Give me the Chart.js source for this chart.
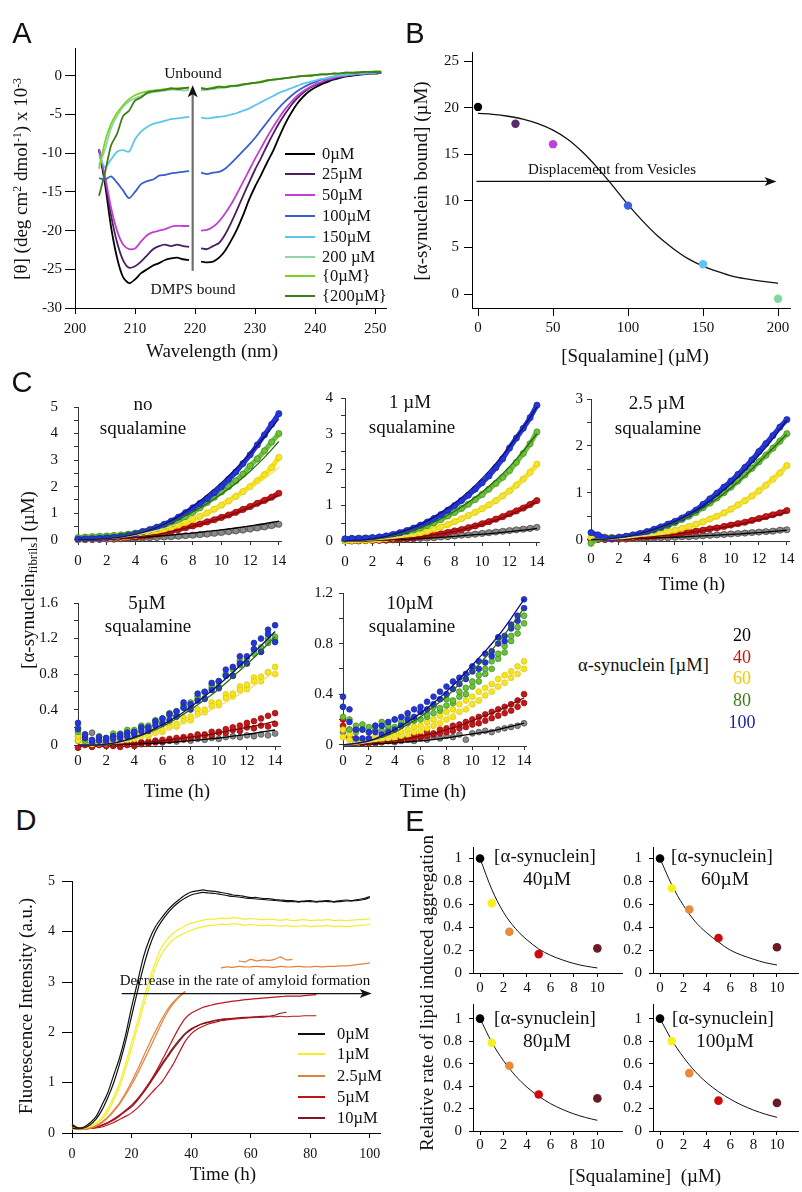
<!DOCTYPE html>
<html><head><meta charset="utf-8">
<script src="https://cdn.jsdelivr.net/npm/chart.js@4.4.1/dist/chart.umd.min.js"></script>
<style>
html,body{margin:0;padding:0;background:#fff;}
#root{position:relative;width:802px;height:1192px;overflow:hidden;background:#fff;font-family:'Liberation Serif','Times New Roman',serif;color:#111;}
.t{position:absolute;white-space:nowrap;line-height:1;}
.t sup{font-size:0.62em;vertical-align:0.5em;line-height:0;}
.t sub{font-size:0.68em;vertical-align:-0.3em;line-height:0;}
.lg{position:absolute;height:2px;}
canvas{position:absolute;}
</style></head><body><div id="root"></div>
<script>
// ---------------- DATA ----------------
// Panel A: CD spectra
const wlA = [204,205,206,207,208,209,210,211,212,213,214,215,216,217,218,219,220,221,222,223,224,225,226,227,228,229,230,231,232,233,234,235,236,237,238,239,240,241,242,243,244,245,246,247,248,249,250,251];
const cd0 = [-9.5,-14,-19.5,-23.5,-26,-26.8,-26.3,-25.5,-25.0,-24.5,-24.2,-23.8,-23.6,-23.5,-23.7,-23.8,null,-24.0,-24.1,-24.0,-23.5,-22.6,-21.3,-19.8,-18.0,-16.0,-14.3,-12.8,-11.2,-9.7,-7.9,-6.2,-4.8,-3.6,-2.7,-2.0,-1.5,-1.1,-0.8,-0.5,-0.3,-0.1,0.0,0.1,0.2,0.3,0.3,0.4];
const cd25 = [-9.5,-13.5,-18,-21.5,-23.8,-24.8,-24.6,-24.0,-23.2,-22.4,-22.0,-21.8,-22.0,-21.8,-22.0,-22.1,null,-22.3,-22.4,-22.0,-21.6,-20.5,-19.0,-17.3,-15.5,-13.8,-12.1,-10.6,-9.0,-7.5,-6.1,-4.9,-3.8,-2.9,-2.2,-1.6,-1.2,-0.9,-0.6,-0.4,-0.2,0.0,0.1,0.2,0.3,0.3,0.4,0.4];
const cd50 = [-9.5,-13,-17,-20,-21.8,-22.4,-22.3,-21.4,-20.6,-20.2,-20.0,-19.8,-19.5,-19.4,-19.4,-19.4,null,-20.0,-19.9,-19.5,-18.8,-17.8,-16.6,-15.2,-13.7,-12.2,-10.7,-9.3,-7.9,-6.6,-5.4,-4.3,-3.4,-2.6,-2.0,-1.5,-1.1,-0.8,-0.5,-0.3,-0.1,0.0,0.1,0.2,0.3,0.3,0.4,0.4];
const cd100 = [-13.2,-13.4,-13.0,-13.8,-14.8,-15.8,-15.0,-14.0,-13.6,-13.4,-12.9,-12.8,-12.6,-12.5,-12.4,-12.3,null,-12.5,-12.7,-12.5,-12.4,-12.0,-11.3,-10.5,-9.7,-8.9,-8.0,-7.0,-6.0,-5.0,-4.1,-3.3,-2.6,-2.0,-1.5,-1.1,-0.8,-0.5,-0.3,-0.1,0.0,0.1,0.2,0.3,0.3,0.4,0.4,0.4];
const cd150 = [-10.2,-11.8,-10.8,-9.8,-9.6,-9.8,-8.2,-7.2,-6.6,-6.2,-6.0,-5.8,-5.6,-5.5,-5.4,-5.3,null,-5.4,-5.5,-5.4,-5.3,-5.2,-5.0,-4.8,-4.5,-4.2,-3.8,-3.4,-3.0,-2.6,-2.2,-1.9,-1.6,-1.3,-1.0,-0.8,-0.6,-0.4,-0.3,-0.1,0.0,0.1,0.2,0.3,0.3,0.4,0.4,0.5];
const cd200 = [-11.5,-9.5,-6.8,-5.2,-4.0,-3.3,-2.9,-2.6,-2.3,-2.1,-2.0,-1.9,-1.8,-1.8,-1.9,-1.8,null,-1.9,-1.8,-1.7,-1.6,-1.5,-1.4,-1.3,-1.2,-1.0,-0.9,-0.8,-0.6,-0.5,-0.4,-0.3,-0.2,-0.1,0.0,0.0,0.1,0.2,0.2,0.3,0.3,0.4,0.4,0.5,0.5,0.5,0.5,0.5];
const cdFree0 = [-12.0,-8.5,-6.2,-4.8,-3.8,-3.0,-2.5,-2.2,-2.0,-1.9,-1.8,-1.7,-1.7,-1.6,-1.6,-1.6,null,-1.6,-1.7,-1.5,-1.4,-1.4,-1.3,-1.2,-1.1,-1.0,-0.9,-0.7,-0.6,-0.5,-0.4,-0.3,-0.2,-0.1,0.0,0.1,0.1,0.2,0.2,0.3,0.3,0.4,0.4,0.5,0.5,0.5,0.6,0.6];
const cdFree200 = [-15.5,-12.5,-9.0,-7.5,-5.2,-4.5,-3.2,-2.8,-2.2,-2.0,-1.9,-1.8,-1.6,-1.7,-1.6,-1.5,null,-1.6,-1.7,-1.6,-1.4,-1.5,-1.3,-1.3,-1.1,-1.0,-0.9,-0.8,-0.6,-0.5,-0.4,-0.3,-0.2,-0.1,0.0,0.0,0.1,0.2,0.2,0.3,0.3,0.4,0.4,0.4,0.5,0.5,0.5,0.5];
const labelsA = ['0\u00b5M','25\u00b5M','50\u00b5M','100\u00b5M','150\u00b5M','200 \u00b5M','{0\u00b5M}','{200\u00b5M}'];
const colorsA = ['#000000','#4b1f60','#c23fd6','#3a5fcd','#5cc6ef','#8fd6a8','#7ed321','#3f7d1c'];
const ticksAx = [200,210,220,230,240,250];
const ticksAy = [-30,-25,-20,-15,-10,-5,0];

// Panel B: bound alpha-synuclein vs squalamine
const sqB = [0,25,50,100,150,200];
const boundB = [20.1,18.3,16.1,9.5,3.2,-0.5];
const colorsB = ['#000000','#5a2a6e','#c040e0','#3a62e0','#5cc6f0','#7fd8a0'];
const sqFitB = [0,10,20,30,40,50,60,70,80,90,100,110,120,130,140,150,160,170,180,190,200];
const fitB = [19.4,19.3,19.1,18.8,18.3,17.6,16.6,15.2,13.5,11.6,9.6,7.8,6.2,4.9,3.8,3.0,2.4,1.9,1.6,1.35,1.15];
const ticksBx = [0,50,100,150,200];
const ticksBy = [0,5,10,15,20,25];

// Panel C: kinetics (time in h)
const tC = [0,0.5,1,1.5,2,2.5,3,3.5,4,4.5,5,5.5,6,6.5,7,7.5,8,8.5,9,9.5,10,10.5,11,11.5,12,12.5,13,13.5,14];
const tF = [0,1,2,3,4,5,6,7,8,9,10,11,12,13,14];
// no squalamine
const c1Blue = [0.02,0.03,0.04,0.05,0.07,0.09,0.12,0.16,0.22,0.3,0.38,0.47,0.58,0.7,0.85,1.02,1.2,1.37,1.55,1.77,2.0,2.27,2.55,2.87,3.2,3.57,3.95,4.35,4.75];
const c1Green = [0.08,0.1,0.12,0.13,0.14,0.16,0.18,0.21,0.25,0.3,0.36,0.43,0.51,0.6,0.72,0.87,1.03,1.2,1.4,1.6,1.8,2.0,2.22,2.47,2.78,3.05,3.35,3.68,4.0];
const c1Yellow = [0.0,0.02,0.03,0.04,0.05,0.07,0.09,0.12,0.16,0.2,0.25,0.31,0.38,0.46,0.55,0.65,0.76,0.88,1.01,1.15,1.3,1.46,1.63,1.81,2.0,2.22,2.45,2.72,3.1];
const c1Red = [0,0.01,0.01,0.02,0.03,0.04,0.06,0.08,0.1,0.13,0.16,0.2,0.24,0.32,0.38,0.45,0.52,0.59,0.67,0.75,0.84,0.93,1.03,1.14,1.25,1.37,1.48,1.6,1.75];
const c1Gray = [0,0,0.01,0.01,0.02,0.02,0.03,0.04,0.05,0.06,0.07,0.08,0.1,0.11,0.13,0.15,0.17,0.19,0.21,0.24,0.27,0.3,0.33,0.36,0.4,0.44,0.48,0.53,0.58];
const c1FitBlue = [0,0.01,0.04,0.1,0.2,0.36,0.58,0.88,1.25,1.68,2.15,2.67,3.25,3.88,4.55];
const c1FitGreen = [0,0.02,0.06,0.13,0.24,0.38,0.56,0.78,1.05,1.36,1.72,2.12,2.58,3.1,3.7];
const c1FitYellow = [0,0.01,0.04,0.09,0.17,0.28,0.42,0.6,0.8,1.03,1.3,1.6,1.93,2.3,2.72];
const c1FitRed = [0,0.005,0.02,0.05,0.09,0.16,0.25,0.37,0.5,0.65,0.82,1.01,1.22,1.44,1.68];
const c1FitBlack = [0,0.01,0.03,0.05,0.08,0.11,0.15,0.2,0.25,0.31,0.37,0.44,0.52,0.6,0.7];
// 1 uM squalamine
const c2Blue = [0.06,0.07,0.07,0.08,0.09,0.11,0.14,0.18,0.23,0.29,0.36,0.44,0.53,0.63,0.74,0.86,0.99,1.13,1.28,1.45,1.63,1.82,2.05,2.3,2.6,2.88,3.15,3.45,3.8];
const c2Green = [0.05,0.07,0.08,0.08,0.09,0.11,0.13,0.16,0.2,0.25,0.3,0.36,0.43,0.51,0.6,0.7,0.8,0.91,1.03,1.16,1.3,1.45,1.61,1.78,1.97,2.2,2.45,2.72,3.05];
const c2Yellow = [0,0.01,0.02,0.02,0.03,0.04,0.06,0.08,0.11,0.14,0.18,0.22,0.27,0.33,0.39,0.46,0.54,0.62,0.71,0.8,0.9,1.01,1.13,1.26,1.4,1.56,1.73,1.92,2.15];
const c2Red = [0,0,0.01,0.01,0.02,0.02,0.03,0.04,0.06,0.07,0.09,0.11,0.14,0.17,0.2,0.24,0.28,0.32,0.37,0.42,0.48,0.54,0.61,0.68,0.76,0.84,0.92,1.02,1.13];
const c2Gray = [0,0,0,0.01,0.01,0.02,0.02,0.03,0.04,0.05,0.06,0.07,0.08,0.09,0.11,0.12,0.14,0.16,0.17,0.19,0.21,0.23,0.25,0.27,0.29,0.31,0.33,0.35,0.38];
const c2FitBlue = [0,0.02,0.06,0.13,0.24,0.38,0.56,0.79,1.06,1.38,1.75,2.17,2.65,3.18,3.75];
const c2FitGreen = [0,0.01,0.04,0.1,0.19,0.3,0.44,0.62,0.83,1.08,1.37,1.7,2.08,2.52,3.0];
const c2FitYellow = [0,0.01,0.03,0.06,0.11,0.18,0.27,0.39,0.53,0.7,0.89,1.12,1.38,1.7,2.05];
const c2FitRed = [0,0.005,0.015,0.03,0.06,0.09,0.14,0.2,0.27,0.36,0.46,0.58,0.73,0.9,1.1];
const c2FitBlack = [0,0.004,0.01,0.025,0.04,0.06,0.08,0.1,0.13,0.16,0.19,0.22,0.26,0.3,0.35];
// 2.5 uM squalamine
const c3Blue = [0.15,0.1,0.04,0.03,0.05,0.07,0.1,0.13,0.17,0.22,0.27,0.33,0.39,0.46,0.54,0.63,0.75,0.87,0.99,1.12,1.25,1.39,1.54,1.7,1.88,2.05,2.22,2.4,2.56];
const c3Green = [-0.08,0.02,0.03,0.04,0.05,0.07,0.09,0.12,0.16,0.2,0.25,0.3,0.36,0.43,0.5,0.58,0.68,0.78,0.89,1.0,1.12,1.25,1.38,1.52,1.66,1.8,1.95,2.1,2.26];
const c3Yellow = [0.05,0.08,0.06,0.05,0.05,0.06,0.07,0.08,0.1,0.12,0.14,0.17,0.2,0.24,0.28,0.33,0.38,0.44,0.5,0.57,0.65,0.74,0.83,0.93,1.04,1.16,1.29,1.42,1.58];
const c3Red = [0,0.01,0.01,0.02,0.02,0.03,0.04,0.05,0.06,0.07,0.09,0.1,0.12,0.14,0.16,0.18,0.2,0.23,0.25,0.28,0.31,0.34,0.37,0.41,0.45,0.49,0.53,0.57,0.62];
const c3Gray = [0,0,0,0.01,0.01,0.01,0.02,0.02,0.03,0.03,0.04,0.04,0.05,0.06,0.06,0.07,0.08,0.09,0.1,0.11,0.12,0.13,0.14,0.15,0.16,0.17,0.18,0.2,0.21];
const c3FitBlue = [0,0.01,0.04,0.09,0.17,0.27,0.39,0.54,0.72,0.94,1.19,1.48,1.8,2.15,2.55];
const c3FitGreen = [0,0.01,0.04,0.09,0.16,0.25,0.36,0.5,0.67,0.87,1.1,1.36,1.65,1.95,2.25];
const c3FitYellow = [0,0.01,0.02,0.05,0.09,0.14,0.21,0.29,0.39,0.51,0.65,0.82,1.02,1.26,1.53];
const c3FitRed = [0,0.005,0.015,0.03,0.05,0.08,0.11,0.15,0.19,0.24,0.29,0.35,0.42,0.5,0.59];
const c3FitBlack = [0,0.003,0.01,0.02,0.03,0.04,0.05,0.065,0.08,0.095,0.11,0.13,0.15,0.175,0.2];
// 5 uM squalamine (two replicates)
const c4BlueA = [0.25,0.12,0.06,0.05,0.08,0.07,0.12,0.1,0.15,0.16,0.2,0.22,0.3,0.28,0.38,0.42,0.46,0.5,0.6,0.62,0.72,0.78,0.88,0.92,1.0,1.08,1.2,1.25,1.35];
const c4BlueB = [0.18,0.08,0.03,0.09,0.04,0.1,0.08,0.14,0.12,0.2,0.16,0.27,0.24,0.35,0.32,0.48,0.4,0.58,0.52,0.7,0.64,0.85,0.78,1.0,0.92,1.15,1.05,1.3,1.16];
const c4GreenA = [0.15,0.08,0.05,0.06,0.08,0.1,0.13,0.14,0.17,0.2,0.22,0.25,0.3,0.33,0.38,0.42,0.48,0.52,0.6,0.65,0.72,0.78,0.85,0.9,0.98,1.03,1.1,1.15,1.22];
const c4GreenB = [0.2,0.05,0.03,0.1,0.06,0.13,0.1,0.17,0.14,0.22,0.19,0.28,0.26,0.36,0.33,0.45,0.43,0.55,0.53,0.68,0.66,0.8,0.78,0.95,0.92,1.08,1.05,1.2,1.18];
const c4YellowA = [0.1,0.12,0.05,0.02,0.02,0.03,0.05,0.06,0.08,0.1,0.12,0.14,0.17,0.2,0.24,0.27,0.32,0.35,0.4,0.44,0.48,0.53,0.58,0.62,0.68,0.72,0.77,0.82,0.88];
const c4YellowB = [0.05,0.03,0.01,0.04,0.03,0.06,0.04,0.09,0.07,0.13,0.1,0.18,0.15,0.24,0.21,0.31,0.28,0.4,0.37,0.48,0.45,0.57,0.55,0.66,0.63,0.76,0.72,0.82,0.8];
const c4RedA = [-0.03,0.02,0,0.02,-0.01,0.01,-0.02,0,0.02,0.01,0.04,0.03,0.06,0.05,0.08,0.07,0.1,0.12,0.11,0.15,0.14,0.18,0.2,0.22,0.25,0.27,0.3,0.33,0.36];
const c4RedB = [0.05,0,-0.02,0,0.01,-0.01,0.01,0.02,-0.01,0.03,0.02,0.05,0.04,0.07,0.06,0.09,0.08,0.1,0.12,0.11,0.15,0.14,0.17,0.16,0.2,0.19,0.22,0.21,0.24];
const c4Gray = [0.1,0.12,0.14,0.02,0.01,0,0.01,0.02,0.01,0.03,0.02,0.04,0.03,0.05,0.04,0.06,0.05,0.07,0.06,0.08,0.07,0.09,0.1,0.09,0.11,0.1,0.12,0.11,0.13];
const c4FitBlue = [0,0,0.01,0.04,0.09,0.15,0.23,0.32,0.43,0.55,0.68,0.82,0.97,1.12,1.28];
const c4FitGreen = [0,0,0.01,0.04,0.08,0.14,0.21,0.3,0.4,0.51,0.63,0.77,0.91,1.06,1.22];
const c4FitYellow = [0,0,0.01,0.03,0.06,0.1,0.15,0.21,0.28,0.36,0.44,0.53,0.62,0.72,0.83];
const c4FitRed = [0,0,0.005,0.01,0.02,0.035,0.05,0.07,0.09,0.11,0.14,0.17,0.2,0.23,0.27];
const c4FitBlack = [0,0,0.003,0.006,0.01,0.017,0.025,0.036,0.05,0.065,0.08,0.1,0.12,0.145,0.17];
// 10 uM squalamine (two replicates)
const c5BlueA = [0.38,0.28,0.12,0.05,0.1,0.15,0.08,0.18,0.12,0.22,0.2,0.28,0.26,0.34,0.32,0.42,0.4,0.5,0.48,0.56,0.58,0.66,0.65,0.74,0.8,0.86,0.92,1.02,1.15];
const c5BlueB = [0.3,0.18,0.05,0.12,0.05,0.1,0.15,0.1,0.2,0.15,0.25,0.22,0.3,0.28,0.38,0.36,0.46,0.44,0.53,0.52,0.62,0.6,0.72,0.7,0.85,0.82,0.95,0.98,1.08];
const c5GreenA = [0.3,0.2,0.15,0.16,0.14,0.15,0.18,0.15,0.2,0.18,0.22,0.2,0.26,0.24,0.3,0.29,0.36,0.35,0.42,0.45,0.5,0.55,0.6,0.66,0.72,0.78,0.86,0.93,1.02];
const c5GreenB = [0.22,0.12,0.1,0.12,0.1,0.12,0.11,0.13,0.14,0.16,0.17,0.19,0.2,0.22,0.25,0.27,0.31,0.33,0.38,0.4,0.46,0.5,0.56,0.6,0.68,0.73,0.82,0.88,0.96];
const c5YellowA = [0.12,0.08,0.05,0.04,0.05,0.06,0.05,0.07,0.08,0.1,0.12,0.14,0.15,0.18,0.2,0.23,0.26,0.28,0.32,0.35,0.38,0.42,0.45,0.48,0.52,0.55,0.58,0.62,0.66];
const c5YellowB = [0.06,0.04,0.02,0.03,0.02,0.04,0.03,0.05,0.05,0.07,0.08,0.1,0.11,0.13,0.15,0.17,0.2,0.22,0.26,0.28,0.32,0.35,0.39,0.42,0.46,0.49,0.53,0.56,0.6];
const c5RedA = [0.2,0.12,0.04,0.02,0.03,0.02,0.04,0.03,0.05,0.06,0.05,0.08,0.07,0.1,0.09,0.12,0.13,0.15,0.16,0.18,0.2,0.22,0.24,0.26,0.28,0.3,0.32,0.35,0.4];
const c5RedB = [0.15,0.06,0.02,0.01,0.01,0.02,0.02,0.03,0.03,0.04,0.05,0.05,0.06,0.07,0.08,0.09,0.1,0.11,0.13,0.14,0.16,0.17,0.19,0.21,0.23,0.25,0.27,0.3,0.33];
const c5Gray = [0.1,0.06,0.02,0.01,0.02,0.01,0.02,0.03,0.02,0.03,0.04,0.03,0.05,0.04,0.06,0.05,0.07,0.06,0.08,0.04,0.09,0.1,0.11,0.1,0.12,0.13,0.14,0.15,0.17];
const c5FitBlue = [0,0.01,0.03,0.07,0.12,0.18,0.25,0.33,0.42,0.52,0.63,0.74,0.86,1.0,1.15];
const c5FitGreen = [0,0.01,0.03,0.06,0.1,0.16,0.22,0.3,0.38,0.48,0.58,0.69,0.81,0.94,1.08];
const c5FitYellow = [0,0.005,0.02,0.04,0.06,0.09,0.13,0.17,0.22,0.27,0.33,0.39,0.46,0.53,0.61];
const c5FitRed = [0,0,0.01,0.02,0.03,0.05,0.07,0.09,0.12,0.15,0.19,0.23,0.27,0.32,0.37];
const c5FitBlack = [0,0,0.005,0.01,0.015,0.022,0.03,0.042,0.055,0.07,0.085,0.1,0.12,0.145,0.17];
const ticksCx = [0,2,4,6,8,10,12,14];
const synConc = ['20','40','60','80','100'];
const synColors = ['#000000','#cc1111','#f2c800','#3c7a1c','#1a1aa8'];

// Panel D: ThT fluorescence vs time (h), duplicates
const tD = [0,2,4,6,8,10,12,14,16,18,20,22,24,26,28,30,32,34,36,38,40,42,44,46,48,50,52,54,56,58,60,62,64,66,68,70,72,74,76,78,80,82,84,86,88,90,92,94,96,98,100];
const dBlackA = [0.15,0.1,0.12,0.2,0.32,0.55,0.8,1.15,1.5,1.95,2.5,3.0,3.5,3.85,4.1,4.27,4.42,4.54,4.64,4.73,4.79,4.81,4.83,4.81,4.8,4.78,4.76,4.73,4.72,4.7,4.68,4.68,4.66,4.66,4.64,4.63,4.62,4.62,4.6,4.61,4.62,4.6,4.61,4.62,4.6,4.62,4.63,4.62,4.64,4.66,4.7];
const dBlackB = [0.1,0.08,0.1,0.16,0.27,0.45,0.7,1.0,1.38,1.82,2.32,2.82,3.3,3.7,4.0,4.2,4.36,4.49,4.59,4.67,4.73,4.76,4.78,4.77,4.76,4.74,4.72,4.7,4.69,4.67,4.66,4.65,4.64,4.63,4.62,4.61,4.6,4.6,4.59,4.6,4.6,4.59,4.6,4.6,4.59,4.6,4.61,4.61,4.62,4.64,4.68];
const dYellowA = [0.1,0.08,0.1,0.14,0.2,0.3,0.48,0.72,1.0,1.38,1.8,2.22,2.65,3.05,3.4,3.68,3.85,3.97,4.05,4.12,4.17,4.2,4.23,4.25,4.25,4.27,4.26,4.28,4.27,4.25,4.26,4.25,4.24,4.25,4.24,4.23,4.24,4.22,4.23,4.24,4.22,4.23,4.23,4.24,4.22,4.23,4.22,4.23,4.24,4.24,4.26];
const dYellowB = [0.08,0.07,0.09,0.12,0.18,0.27,0.42,0.65,0.92,1.28,1.68,2.1,2.52,2.92,3.28,3.55,3.72,3.84,3.92,3.98,4.03,4.07,4.1,4.12,4.13,4.15,4.14,4.16,4.15,4.13,4.14,4.13,4.12,4.13,4.12,4.11,4.12,4.1,4.11,4.12,4.1,4.11,4.11,4.12,4.1,4.11,4.1,4.11,4.12,4.13,4.15];
const dOrangeA = [0.12,0.08,0.08,0.1,0.15,0.22,0.32,0.45,0.6,0.8,1.02,1.26,1.52,1.78,2.02,2.25,2.45,2.6,2.72,2.82,null,null,null,null,null,3.28,3.3,3.29,3.31,3.3,3.3,3.31,3.3,3.3,3.29,3.31,3.3,3.3,3.31,3.3,3.3,3.31,3.3,3.31,3.31,3.32,3.32,3.33,3.35,3.36,3.38];
const dOrangeB = [0.1,0.07,0.07,0.09,0.13,0.2,0.3,0.43,0.58,0.76,0.96,1.18,1.42,1.67,1.92,2.17,2.4,2.57,2.7,2.8,null,null,null,null,null,null,null,null,3.42,3.4,3.45,3.42,3.44,3.43,3.45,3.5,3.44,3.45,null,null,null,null,null,null,null,null,null,null,null,null,null];
const dRedA = [0.1,0.08,0.08,0.09,0.11,0.15,0.2,0.27,0.35,0.45,0.55,0.68,0.83,1.0,1.2,1.42,1.65,1.88,2.1,2.28,2.38,2.44,2.5,2.53,2.56,2.58,2.6,2.62,2.63,2.65,2.66,2.67,2.68,2.69,2.7,2.71,2.72,2.72,2.72,2.73,2.74,2.75,null,null,null,null,null,null,null,null,null];
const dRedB = [0.1,0.08,0.08,0.09,0.1,0.12,0.16,0.21,0.27,0.33,0.4,0.5,0.62,0.75,0.88,1.0,1.18,1.37,1.6,1.82,1.97,2.06,2.12,2.17,2.2,2.23,2.25,2.26,2.27,2.28,2.29,2.3,2.3,2.31,2.31,2.32,2.31,2.32,2.32,2.33,2.33,2.33,null,null,null,null,null,null,null,null,null];
const dDarkA = [0.18,0.1,0.09,0.1,0.12,0.15,0.2,0.26,0.34,0.43,0.52,0.65,0.8,0.97,1.15,1.33,1.5,1.67,1.82,1.96,2.05,2.12,2.17,2.2,2.23,2.25,2.26,2.27,2.28,2.29,2.3,2.3,2.31,2.32,null,null,null,null,null,null,null,null,null,null,null,null,null,null,null,null,null];
const dDarkB = [0.15,0.1,0.09,0.1,0.12,0.16,0.21,0.28,0.36,0.45,0.55,0.68,0.83,1.0,1.18,1.36,1.53,1.7,1.85,1.98,2.07,2.13,2.18,2.21,2.24,2.26,2.27,2.28,2.29,2.3,2.3,2.31,2.32,2.32,2.34,2.38,2.4,null,null,null,null,null,null,null,null,null,null,null,null,null,null];
const labelsD = ['0\u00b5M','1\u00b5M','2.5\u00b5M','5\u00b5M','10\u00b5M'];
const colorsD = ['#111111','#f2ee2e','#e4803a','#c0141c','#7c1a22'];
const ticksDx = [0,20,40,60,80,100];
const ticksDy = [0,1,2,3,4,5];

// Panel E: relative rate vs squalamine
const sqE = [0,1,2.5,5,10];
const rate40 = [1.0,0.61,0.36,0.165,0.215];
const rate60 = [1.0,0.74,0.555,0.305,0.225];
const rate80 = [1.0,0.785,0.58,0.325,0.29];
const rate100 = [1.0,0.8,0.515,0.27,0.25];
const sqFitE = [0,1,2,3,4,5,6,7,8,9,10];
const fit40 = [1,0.73,0.53,0.39,0.29,0.21,0.155,0.115,0.083,0.06,0.044];
const fit60 = [1,0.77,0.59,0.45,0.35,0.27,0.2,0.155,0.12,0.09,0.07];
const fit80 = [1,0.79,0.625,0.494,0.39,0.31,0.244,0.193,0.152,0.12,0.095];
const fit100 = [1,0.81,0.657,0.53,0.43,0.35,0.284,0.23,0.186,0.15,0.122];
const colorsE = ['#000000','#f6f020','#e88a3a','#d00a0a','#6b1a28'];
const ticksEx = [0,2,4,6,8,10];
const ticksEy = [0,0.2,0.4,0.6,0.8,1];

// ---------------- HELPERS ----------------
const SERIF = "'Liberation Serif','Times New Roman',serif";
const SANS = "'Liberation Sans',Arial,sans-serif";
const root = document.getElementById('root');

function txt(html, x, y, size, opt) {
  opt = opt || {};
  const d = document.createElement('div');
  d.className = 't';
  d.innerHTML = html;
  d.style.left = x + 'px';
  d.style.top = y + 'px';
  d.style.fontSize = size + 'px';
  if (opt.color) d.style.color = opt.color;
  if (opt.font) d.style.fontFamily = opt.font;
  let tr = opt.align === 'left' ? 'translate(0,-50%)' : 'translate(-50%,-50%)';
  if (opt.rot) tr += ' rotate(-90deg)';
  d.style.transform = tr;
  root.appendChild(d);
}
function legLine(x1, x2, y, color, w) {
  const d = document.createElement('div');
  d.className = 'lg';
  d.style.left = x1 + 'px'; d.style.width = (x2 - x1) + 'px';
  d.style.top = (y - (w || 2) / 2) + 'px'; d.style.height = (w || 2) + 'px';
  d.style.background = color;
  root.appendChild(d);
}
function pts(xs, ys) { return xs.map((x, i) => ({x: x, y: ys[i]})); }
function dots(xs, ys, fill, border, r, order) {
  return {data: pts(xs, ys), backgroundColor: fill, borderColor: border, pointRadius: r, pointBorderWidth: 0.7,
    pointHoverRadius: r, showLine: false, order: order, clip: false};
}
function band(xs, ys, color, w, order) {
  return {data: pts(xs, ys), borderColor: color, borderWidth: w, pointRadius: 0, pointHoverRadius: 0,
    showLine: true, fill: false, order: order, tension: 0.2, clip: 3};
}
function curve(xs, ys, color, w, order, smooth) {
  const ds = {data: pts(xs, ys), borderColor: color, backgroundColor: color, borderWidth: w, pointRadius: 0,
    pointHoverRadius: 0, showLine: true, fill: false, order: order, spanGaps: false, clip: 3};
  if (smooth) ds.cubicInterpolationMode = 'monotone'; else ds.tension = 0.25;
  return ds;
}
function scale(s, axis, size) {
  return {
    type: 'linear', position: axis === 'x' ? 'bottom' : 'left', min: s.min, max: s.max,
    afterBuildTicks: sc => { sc.ticks = s.ticks.map(v => ({value: v})); },
    afterFit: sc => { if (axis === 'x') sc.height = size; else sc.width = size; },
    grid: {display: true, drawOnChartArea: false, drawTicks: true, tickLength: s.tl, tickColor: s.color || '#000', tickWidth: 1},
    border: {display: true, color: s.color || '#000', width: 1},
    ticks: {color: '#111', font: {family: SERIF, size: s.fs || 15}, padding: s.pad, autoSkip: false, maxRotation: 0, minRotation: 0,
      callback: v => (s.major ? (s.major.indexOf(v) >= 0 ? String(v) : '') : String(v))}
  };
}
function arrow(sp) {
  return {id: 'arrow', afterDatasetsDraw(ch) {
    const ctx = ch.ctx, X = ch.scales.x, Y = ch.scales.y;
    const x1 = X.getPixelForValue(sp.x1), y1 = Y.getPixelForValue(sp.y1);
    const x2 = X.getPixelForValue(sp.x2), y2 = Y.getPixelForValue(sp.y2);
    const a = Math.atan2(y2 - y1, x2 - x1), hl = sp.hl, hw = sp.hw;
    const c = Math.cos(a), s = Math.sin(a);
    ctx.save();
    ctx.strokeStyle = sp.color; ctx.lineWidth = sp.w;
    ctx.beginPath(); ctx.moveTo(x1, y1); ctx.lineTo(x2 - c * hl * 0.7, y2 - s * hl * 0.7); ctx.stroke();
    ctx.fillStyle = sp.head;
    ctx.beginPath(); ctx.moveTo(x2, y2);
    ctx.lineTo(x2 - c * hl - s * hw, y2 - s * hl + c * hw);
    ctx.lineTo(x2 - c * hl * 0.75, y2 - s * hl * 0.75);
    ctx.lineTo(x2 - c * hl + s * hw, y2 - s * hl - c * hw);
    ctx.closePath(); ctx.fill();
    ctx.restore();
  }};
}
function mkChart(a, xs, ys, datasets, plugins) {
  const yW = 60, xH = 42, pt = 14, pr = 26;
  const W = yW + (a.r - a.l) + pr, H = pt + (a.b - a.t) + xH;
  const c = document.createElement('canvas');
  c.width = W; c.height = H;
  c.style.left = (a.l - yW) + 'px'; c.style.top = (a.t - pt) + 'px';
  c.style.width = W + 'px'; c.style.height = H + 'px';
  root.appendChild(c);
  return new Chart(c, {
    type: 'scatter',
    data: {datasets: datasets},
    options: {
      responsive: false, maintainAspectRatio: false, animation: false, devicePixelRatio: 1, events: [],
      layout: {padding: {top: pt, right: pr, left: 0, bottom: 0}},
      plugins: {legend: {display: false}, tooltip: {enabled: false}, title: {display: false}},
      scales: {x: scale(xs, 'x', xH), y: scale(ys, 'y', yW)}
    },
    plugins: plugins || []
  });
}

// ---------------- PANEL A ----------------
const seriesA = [cd0, cd25, cd50, cd100, cd150, cd200, cdFree0, cdFree200];
mkChart({l: 75, t: 48, r: 386, b: 308},
  {min: 200, max: 251.8, ticks: ticksAx, tl: 6, pad: 6},
  {min: -30, max: 3.6, ticks: ticksAy, tl: 10, pad: 3},
  seriesA.map((s, i) => curve(wlA, s, colorsA[i], 1.8, 10 - i, false)),
  [arrow({x1: 219.6, y1: -25.2, x2: 219.6, y2: -1.2, color: '#6e6e6e', head: '#111', w: 2.2, hl: 12, hw: 5})]);

// ---------------- PANEL B ----------------
mkChart({l: 472, t: 52, r: 790, b: 308},
  {min: -4, max: 208, ticks: ticksBx, tl: 8, pad: 3},
  {min: -1.5, max: 26, ticks: ticksBy, tl: 8, pad: 5},
  [curve(sqFitB, fitB, '#111', 1.3, 2, true),
   {data: pts(sqB, boundB), backgroundColor: colorsB, borderColor: colorsB, pointRadius: 4.2, pointBorderWidth: 0, showLine: false, order: 1, clip: false}],
  [arrow({x1: -1, y1: 12.1, x2: 199, y2: 12.1, color: '#111', head: '#111', w: 1.4, hl: 12, hw: 4.5})]);

// ---------------- PANEL C ----------------
const CB = ['#2536d8', '#1a2a9a'], CG = ['#6cc13a', '#3d8a1e'], CY = ['#f5e51b', '#d8c400'], CR = ['#c8161a', '#8a0c0c'], CK = ['#8a8a8a', '#444444'];
const FB = '#10107a', FG = '#2a6a14', FY = '#f2df60', FR = '#7a0a0a', FK = '#000000';
function cSet(blue, green, yellow, red, gray, fb, fg, fy, fr, fk, r) {
  return [
    curve(tF, fb, FB, 1.3, 0, true), curve(tF, fg, FG, 1.3, 0, true), curve(tF, fy, FY, 1.3, 0, true),
    curve(tF, fr, FR, 1.3, 0, true), curve(tF, fk, FK, 1.3, 0, true),
    dots(tC, blue, CB[0], CB[1], r, 1), dots(tC, green, CG[0], CG[1], r, 3), dots(tC, yellow, CY[0], CY[1], r, 5),
    dots(tC, red, CR[0], CR[1], r, 7), dots(tC, gray, CK[0], CK[1], r, 9),
    band(tC, blue, CB[0], 5, 2), band(tC, green, CG[0], 5, 4), band(tC, yellow, CY[0], 5, 6),
    band(tC, red, CR[0], 5, 8), band(tC, gray, CK[0], 5, 10)
  ];
}
const CAX = '#333';
mkChart({l: 78, t: 396, r: 281, b: 541},
  {min: 0, max: 14.15, ticks: ticksCx, tl: 4, pad: 7, color: CAX},
  {min: -0.05, max: 5, ticks: [0,0.5,1,1.5,2,2.5,3,3.5,4,4.5,5], major: [0,1,2,3,4,5], tl: 4, pad: 16, color: CAX},
  cSet(c1Blue, c1Green, c1Yellow, c1Red, c1Gray, c1FitBlue, c1FitGreen, c1FitYellow, c1FitRed, c1FitBlack, 3.1));
mkChart({l: 345, t: 395, r: 539, b: 542},
  {min: 0, max: 14.15, ticks: ticksCx, tl: 4, pad: 7, color: CAX},
  {min: -0.03, max: 4, ticks: [0,0.5,1,1.5,2,2.5,3,3.5,4], major: [0,1,2,3,4], tl: 4, pad: 8, color: CAX},
  cSet(c2Blue, c2Green, c2Yellow, c2Red, c2Gray, c2FitBlue, c2FitGreen, c2FitYellow, c2FitRed, c2FitBlack, 3.1));
mkChart({l: 591, t: 399, r: 789, b: 541},
  {min: 0, max: 14.15, ticks: ticksCx, tl: 4, pad: 5, color: CAX},
  {min: -0.03, max: 3, ticks: [0,0.5,1,1.5,2,2.5,3], major: [0,1,2,3], tl: 4, pad: 4, color: CAX},
  cSet(c3Blue, c3Green, c3Yellow, c3Red, c3Gray, c3FitBlue, c3FitGreen, c3FitYellow, c3FitRed, c3FitBlack, 3.1));
function cSet2(bA, bB, gA, gB, yA, yB, rA, rB, k, fb, fg, fy, fr, fk, r) {
  return [
    curve(tF, fb, FB, 1.3, 0, true), curve(tF, fg, FG, 1.3, 0, true), curve(tF, fy, FY, 1.3, 0, true),
    curve(tF, fr, FR, 1.3, 0, true), curve(tF, fk, FK, 1.3, 0, true),
    dots(tC, bA, CB[0], CB[1], r, 1), dots(tC, bB, CB[0], CB[1], r, 1),
    dots(tC, gA, CG[0], CG[1], r, 2), dots(tC, gB, CG[0], CG[1], r, 2),
    dots(tC, yA, CY[0], CY[1], r, 3), dots(tC, yB, CY[0], CY[1], r, 3),
    dots(tC, rA, CR[0], CR[1], r, 4), dots(tC, rB, CR[0], CR[1], r, 4),
    dots(tC, k, CK[0], CK[1], r, 5)
  ];
}
mkChart({l: 78, t: 592, r: 280, b: 746},
  {min: 0, max: 14.35, ticks: ticksCx, tl: 4, pad: 2, color: CAX},
  {min: -0.01, max: 1.6, ticks: [0,0.2,0.4,0.6,0.8,1,1.2,1.4,1.6], major: [0,0.4,0.8,1.2,1.6], tl: 4, pad: 16, color: CAX},
  cSet2(c4BlueA, c4BlueB, c4GreenA, c4GreenB, c4YellowA, c4YellowB, c4RedA, c4RedB, c4Gray, c4FitBlue, c4FitGreen, c4FitYellow, c4FitRed, c4FitBlack, 2.9));
mkChart({l: 343, t: 592, r: 526, b: 746},
  {min: 0, max: 14.15, ticks: ticksCx, tl: 4, pad: 2, color: CAX},
  {min: -0.01, max: 1.2, ticks: [0,0.2,0.4,0.6,0.8,1,1.2], major: [0,0.4,0.8,1.2], tl: 4, pad: 6, color: CAX},
  cSet2(c5BlueA, c5BlueB, c5GreenA, c5GreenB, c5YellowA, c5YellowB, c5RedA, c5RedB, c5Gray, c5FitBlue, c5FitGreen, c5FitYellow, c5FitRed, c5FitBlack, 2.9));

// ---------------- PANEL D ----------------
const seriesD = [[dBlackA, dBlackB], [dYellowA, dYellowB], [dOrangeA, dOrangeB], [dRedA, dRedB], [dDarkA, dDarkB]];
const dsD = [];
seriesD.forEach((pair, i) => pair.forEach(s => dsD.push(curve(tD, s, colorsD[i], 1.2, i, false))));
mkChart({l: 72, t: 880, r: 380, b: 1133},
  {min: 0, max: 103.4, ticks: ticksDx, tl: 5, pad: 8, fs: 14},
  {min: 0, max: 5, ticks: ticksDy, tl: 10, pad: 7, fs: 14},
  dsD,
  [arrow({x1: 16.7, y1: 2.77, x2: 100.6, y2: 2.77, color: '#111', head: '#111', w: 1.4, hl: 12, hw: 4.5})]);

// ---------------- PANEL E ----------------
function eSet(rate, fit) {
  return [curve(sqFitE, fit, '#111', 1, 2, true),
    {data: pts(sqE, rate), backgroundColor: colorsE, borderColor: colorsE, pointRadius: 4.3, pointBorderWidth: 0, showLine: false, order: 1, clip: false}];
}
mkChart({l: 473, t: 845, r: 622, b: 973}, {min: -0.6, max: 12.1, ticks: ticksEx, tl: 4, pad: 2}, {min: 0, max: 1.1, ticks: ticksEy, tl: 4, pad: 7}, eSet(rate40, fit40));
mkChart({l: 653, t: 845, r: 798, b: 973}, {min: -0.6, max: 11.8, ticks: ticksEx, tl: 4, pad: 2}, {min: 0, max: 1.1, ticks: ticksEy, tl: 4, pad: 7}, eSet(rate60, fit60));
mkChart({l: 473, t: 1002, r: 622, b: 1131}, {min: -0.6, max: 12.1, ticks: ticksEx, tl: 4, pad: 1}, {min: 0, max: 1.13, ticks: ticksEy, tl: 4, pad: 7}, eSet(rate80, fit80));
mkChart({l: 653, t: 1002, r: 798, b: 1131}, {min: -0.6, max: 11.8, ticks: ticksEx, tl: 4, pad: 1}, {min: 0, max: 1.13, ticks: ticksEy, tl: 4, pad: 7}, eSet(rate100, fit100));

// ---------------- TEXT ----------------
// panel letters
txt('A', 22, 33, 29, {font: SANS});
txt('B', 415, 33, 29, {font: SANS});
txt('C', 22, 382, 29, {font: SANS});
txt('D', 26, 820, 29, {font: SANS});
txt('E', 415, 821, 29, {font: SANS});
// A
txt('[\u03b8] (deg cm<sup>2</sup> dmol<sup>-1</sup>) x 10<sup>-3</sup>', 20, 179, 19, {rot: true});
txt('Wavelength (nm)', 212, 350, 19);
txt('Unbound', 193, 73, 15.5);
txt('DMPS bound', 193, 289, 15.5);
const legYA = [154, 174, 195, 216, 237, 257, 276, 296];
labelsA.forEach((l, i) => { legLine(285, 315, legYA[i], colorsA[i], 2); txt(l, 322, legYA[i], 16.5, {align: 'left'}); });
// B
txt('[\u03b1-synuclein bound] (\u00b5M)', 420, 181, 19, {rot: true});
txt('[Squalamine] (\u00b5M)', 635, 355, 19);
txt('Displacement from Vesicles', 612, 169, 15);
// C
txt('[\u03b1-synuclein<sub>fibrils</sub>] (\u00b5M)', 27, 580, 19, {rot: true});
txt('no', 143, 403, 19); txt('squalamine', 143, 427, 19);
txt('1 \u00b5M', 410, 401, 19); txt('squalamine', 412, 426, 19);
txt('2.5 \u00b5M', 657, 402, 19); txt('squalamine', 658, 427, 19);
txt('5\u00b5M', 147, 602, 19); txt('squalamine', 148, 625, 19);
txt('10\u00b5M', 410, 602, 19); txt('squalamine', 412, 625, 19);
txt('Time (h)', 692, 583, 19);
txt('Time (h)', 177, 790, 19);
txt('Time (h)', 433, 790, 19);
txt('\u03b1-synuclein [\u00b5M]', 578, 665, 18.5, {align: 'left'});
const legYC = [635, 657, 678, 700, 722];
synConc.forEach((s, i) => txt(s, 742, legYC[i], 18, {color: synColors[i]}));
// D
txt('Fluorescence Intensity (a.u.)', 25, 1006, 19, {rot: true});
txt('Time (h)', 223, 1173, 19);
txt('Decrease in the rate of amyloid formation', 245, 980, 15);
const legYD = [1034, 1054, 1076, 1097, 1118];
labelsD.forEach((l, i) => { legLine(298, 325, legYD[i], colorsD[i], 2); txt(l, 337, legYD[i], 16.5, {align: 'left'}); });
// E
txt('Relative rate of lipid induced aggregation', 426, 993, 19, {rot: true});
txt('[Squalamine]&nbsp;&nbsp;(\u00b5M)', 645, 1175, 19);
txt('[\u03b1-synuclein]', 545, 855, 19); txt('40\u00b5M', 547, 879, 19.5);
txt('[\u03b1-synuclein]', 722, 855, 19); txt('60\u00b5M', 725, 879, 19.5);
txt('[\u03b1-synuclein]', 545, 1017, 19); txt('80\u00b5M', 547, 1041, 19.5);
txt('[\u03b1-synuclein]', 723, 1017, 19); txt('100\u00b5M', 725, 1041, 19.5);
</script></body></html>
